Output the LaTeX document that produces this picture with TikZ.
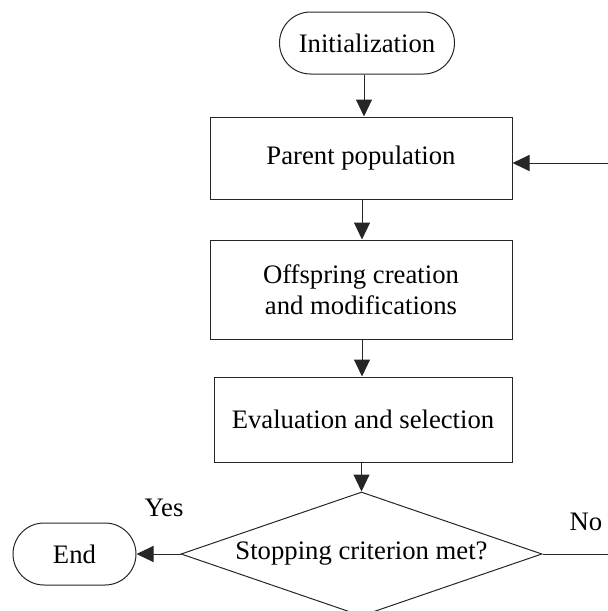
\documentclass[tikz,border=0pt]{standalone}
\usepackage{fontspec}
\setmainfont{Liberation Serif}
\usetikzlibrary{shapes.geometric,arrows.meta}

\tikzset{
  flow/.style={line width=1pt, draw=black!85},
  arrowline/.style={flow, -{Triangle[length=17pt,width=16pt]}},
  stepbox/.style={rectangle, flow, inner sep=0pt, align=center},
  terminal/.style={rectangle, rounded corners=31pt, flow, inner sep=0pt, minimum height=62pt},
  label text/.style={inner sep=0pt},
}

\begin{document}
\begin{tikzpicture}[x=1pt, y=-1pt, font=\fontsize{26.7}{31}\selectfont]
  \useasboundingbox (0,0) rectangle (608,611);

  % start and process steps
  \node[terminal, minimum width=175pt] (init) at (367,43) {Initialization};
  \node[stepbox, minimum width=302pt, minimum height=82pt] (parent) at (361,158) {Parent population};
  \node[stepbox, minimum width=302pt, minimum height=99pt] (offspring) at (361,289.5)
       {Offspring creation\\and modifications};
  \node[stepbox, minimum width=298pt, minimum height=85pt] (evaluation) at (363,419.5)
       {Evaluation and selection};

  % decision
  \node[diamond, flow, inner sep=0pt, minimum width=361pt, minimum height=124pt] (decision) at (361.5,554) {};
  \node[label text] (decisiontext) at (decision.center) {Stopping criterion met?};

  % end
  \node[terminal, minimum width=123pt] (end) at (74.5,554) {End};

  % branch labels
  \node[label text] (yes) at (164,508) {Yes};
  \node[label text] (no) at (586,522) {No};

  % loop-back ends at the page border
  \coordinate (noend) at (608,554);
  \coordinate (loopin) at (608,163);

  % connectors
  \draw[arrowline] (init.south -| 364,0) -- (parent.north -| 364,0);
  \draw[arrowline] (parent.south -| 362,0) -- (offspring.north -| 362,0);
  \draw[arrowline] (offspring.south -| 362,0) -- (evaluation.north -| 362,0);
  \draw[arrowline] (evaluation.south -| decision.north) -- (decision.north);
  \draw[arrowline] (decision.west) -- (end.east);
  \draw[flow] (decision.east) -- (noend);
  \draw[arrowline] (loopin) -- (loopin -| parent.east);
\end{tikzpicture}
\end{document}
